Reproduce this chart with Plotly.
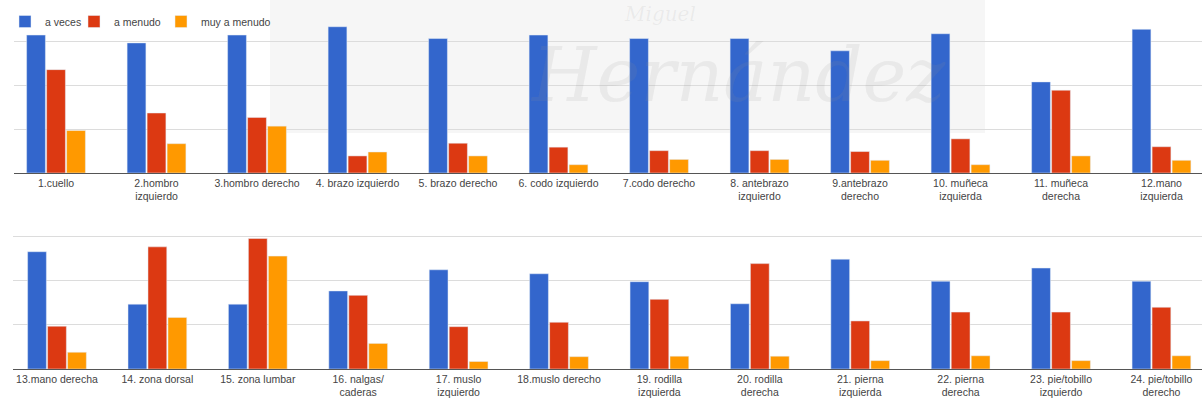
import plotly.graph_objects as go

# ---------------- data ----------------
series_names = ["a veces", "a menudo", "muy a menudo"]
series_colors = ["#3366cc", "#dc3912", "#ff9900"]

top_labels = ["1.cuello", "2.hombro<br>izquierdo", "3.hombro derecho", "4. brazo izquierdo",
              "5. brazo derecho", "6. codo izquierdo", "7.codo derecho", "8. antebrazo<br>izquierdo",
              "9.antebrazo<br>derecho", "10. muñeca<br>izquierda", "11. muñeca<br>derecha",
              "12.mano<br>izquierda"]
a_veces_top = [31.5, 29.7, 31.5, 33.4, 30.7, 31.5, 30.7, 30.7, 27.9, 31.8, 20.8, 32.8]
a_menudo_top = [23.6, 13.7, 12.7, 3.9, 6.8, 5.9, 5.1, 5.1, 4.9, 7.8, 18.9, 6.0]
muy_top = [9.7, 6.7, 10.7, 4.8, 3.9, 1.9, 3.1, 3.1, 2.9, 1.9, 3.9, 2.9]

bottom_labels = ["13.mano derecha", "14. zona dorsal", "15. zona lumbar", "16. nalgas/<br>caderas",
                 "17. muslo<br>izquierdo", "18.muslo derecho", "19. rodilla<br>izquierda",
                 "20. rodilla<br>derecha", "21. pierna<br>izquierda", "22. pierna<br>derecha",
                 "23. pie/tobillo<br>izquierdo", "24. pie/tobillo<br>derecho"]
a_veces_bot = [26.6, 14.7, 14.7, 17.7, 22.5, 21.6, 19.8, 14.8, 24.9, 19.9, 22.9, 19.9]
a_menudo_bot = [9.7, 27.7, 29.6, 16.7, 9.6, 10.6, 15.8, 23.9, 10.9, 12.9, 12.9, 14.0]
muy_bot = [3.8, 11.7, 25.6, 5.8, 1.7, 2.8, 2.9, 2.9, 1.9, 3.0, 1.9, 3.0]

top_values = [a_veces_top, a_menudo_top, muy_top]
bot_values = [a_veces_bot, a_menudo_bot, muy_bot]

# ---------------- figure ----------------
W, H = 1202, 401
fig = go.Figure()

pos_top = list(range(len(top_labels)))
pos_bot = list(range(len(bottom_labels)))
legend_ids = ["legend", "legend2", "legend3"]

for name, color, vals, lg in zip(series_names, series_colors, top_values, legend_ids):
    fig.add_trace(go.Bar(x=pos_top, y=vals, name=name, marker_color=color,
                         legendgroup=name, legend=lg, xaxis="x", yaxis="y"))
for name, color, vals in zip(series_names, series_colors, bot_values):
    fig.add_trace(go.Bar(x=pos_bot, y=vals, name=name, marker_color=color,
                         legendgroup=name, showlegend=False, xaxis="x2", yaxis="y2"))

FONT = "Liberation Sans, Arial, sans-serif"
tickfont = dict(family=FONT, size=10.5, color="#444444")

xcommon = dict(showline=True, linecolor="#555555", linewidth=1, showgrid=False,
               zeroline=False, ticks="", tickfont=tickfont, fixedrange=True)
ycommon = dict(showgrid=True, gridcolor="#dcdcdc", gridwidth=1, zeroline=False,
               showticklabels=False, ticks="", dtick=10, fixedrange=True)

legend_x_px = [5, 74, 161]
legend_common = dict(orientation="h", xanchor="left", y=(H - 7) / H, yanchor="top",
                     font=dict(family=FONT, size=10.5, color="#444444"),
                     bgcolor="rgba(0,0,0,0)", itemwidth=30)

fig.update_layout(
    width=W, height=H,
    margin=dict(l=0, r=0, t=0, b=0),
    paper_bgcolor="white", plot_bgcolor="rgba(0,0,0,0)",
    barmode="group", bargap=0.403, bargroupgap=0.06,
    font=dict(family=FONT, color="#444444"),
    xaxis=dict(xcommon, domain=[14 / W, 1], range=[-0.418, 11.403], anchor="y",
               tickvals=pos_top, ticktext=top_labels),
    yaxis=dict(ycommon, domain=[(H - 173) / H, 1], range=[0, 39.5], anchor="x"),
    xaxis2=dict(xcommon, domain=[13 / W, 1], range=[-0.438, 11.404], anchor="y2",
                tickvals=pos_bot, ticktext=bottom_labels),
    yaxis2=dict(ycommon, domain=[32 / H, (H - 232) / H], range=[0, 31.07], anchor="x2"),
    legend=dict(legend_common, x=legend_x_px[0] / W),
    legend2=dict(legend_common, x=legend_x_px[1] / W),
    legend3=dict(legend_common, x=legend_x_px[2] / W),
    showlegend=True,
)

# faint watermark (background box + text)
fig.add_shape(type="rect", xref="paper", yref="paper",
              x0=270 / W, x1=985 / W, y0=(H - 133) / H, y1=1,
              fillcolor="rgba(0,0,0,0.035)", line_width=0, layer="below")
fig.add_annotation(xref="paper", yref="paper", x=738 / W, y=(H - 75) / H,
                   xanchor="center", yanchor="middle",
                   text="<i>Hernández</i>", showarrow=False,
                   font=dict(family="DejaVu Serif", size=74, color="rgba(150,150,150,0.13)"))
fig.add_annotation(xref="paper", yref="paper", x=660 / W, y=1.0,
                   xanchor="center", yanchor="top",
                   text="<i>Miguel</i>", showarrow=False,
                   font=dict(family="DejaVu Serif", size=20, color="rgba(150,150,150,0.13)"))

fig.write_html("out.html")
